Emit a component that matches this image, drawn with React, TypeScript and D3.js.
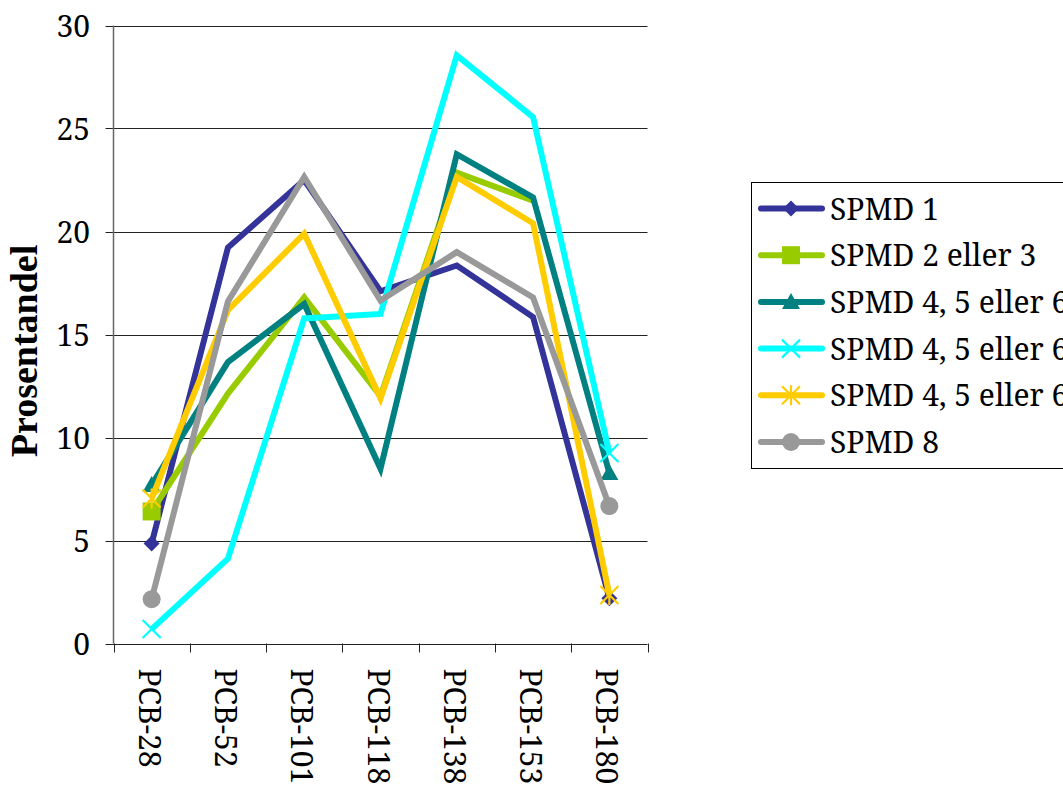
import React from "react";
import * as d3 from "d3";

const categories = ["PCB-28", "PCB-52", "PCB-101", "PCB-118", "PCB-138", "PCB-153", "PCB-180"];
const yTicks = [0, 5, 10, 15, 20, 25, 30];

const spmd1 = [4.86, 19.22, 22.5, 17.1, 18.35, 15.85, 2.2];
const spmd23 = [6.41, 12.13, 16.8, 12.0, 22.86, 21.49, null];
const spmd456a = [7.7, 13.66, 16.48, 8.49, 23.75, 21.65, 8.28];
const spmd456b = [0.7, 4.12, 15.78, 16.0, 28.55, 25.55, 9.25];
const spmd456c = [7.04, 16.18, 19.9, 11.9, 22.65, 20.4, 2.35];
const spmd8 = [2.15, 16.6, 22.65, 16.65, 19.0, 16.8, 6.67];

const seriesNames = ["SPMD 1", "SPMD 2 eller 3", "SPMD 4, 5 eller 6", "SPMD 4, 5 eller 6", "SPMD 4, 5 eller 6", "SPMD 8"];
const seriesColors = ["#333399", "#99CC00", "#008080", "#00FFFF", "#FFCC00", "#999999"];
const seriesMarkers = ["diamond", "square", "triangle", "x", "asterisk", "circle"];
const seriesValues = [spmd1, spmd23, spmd456a, spmd456b, spmd456c, spmd8];

const FONT = "'Noto Serif', 'DejaVu Serif', serif";
const BOLD_FONT = "'Liberation Serif', 'Times New Roman', serif";
const FS = 30;

function Marker({ type, color, x, y }: { type: string; color: string; x: number; y: number }) {
  switch (type) {
    case "diamond":
      return <path d={`M${x},${y - 8}L${x + 8},${y}L${x},${y + 8}L${x - 8},${y}Z`} fill={color} />;
    case "square":
      return <rect x={x - 9} y={y - 9} width={18} height={18} fill={color} />;
    case "triangle":
      return <path d={`M${x},${y - 9}L${x + 9},${y + 7}L${x - 9},${y + 7}Z`} fill={color} />;
    case "circle":
      return <circle cx={x} cy={y} r={9} fill={color} />;
    case "x":
      return (
        <path d={`M${x - 9},${y - 9}L${x + 9},${y + 9}M${x - 9},${y + 9}L${x + 9},${y - 9}`} stroke={color} strokeWidth={2.2} fill="none" />
      );
    case "asterisk":
      return (
        <path
          d={`M${x - 9},${y - 9}L${x + 9},${y + 9}M${x - 9},${y + 9}L${x + 9},${y - 9}M${x},${y - 10}L${x},${y + 10}`}
          stroke={color}
          strokeWidth={2.2}
          fill="none"
        />
      );
    default:
      return null;
  }
}

export default function App() {
  const W = 1063;
  const H = 785;
  const left = 113.5;
  const right = 647.5;
  const top = 25.5;
  const bottom = 643.5;

  const x = d3.scaleBand<string>().domain(categories).range([left, right]).padding(0);
  const y = d3.scaleLinear().domain([0, 30]).range([bottom, top]);
  const cx = (c: string) => (x(c) as number) + x.bandwidth() / 2;

  const line = d3
    .line<number | null>()
    .defined((d) => d !== null)
    .x((_, i) => cx(categories[i]))
    .y((d) => y(d as number));

  const legendX = 751.5;
  const legendY = 182.5;
  const rowH = 46.7;
  const txt = { fontFamily: FONT };

  return (
    <svg width={W} height={H} style={{ position: "absolute", left: 0, top: 0, background: "#fff", fontFamily: FONT }}>
      <rect x={0} y={0} width={W} height={H} fill="#fff" />
      {yTicks.map((t) => (
        <line key={"g" + t} x1={left - 8} x2={right} y1={Math.round(y(t)) + 0.5} y2={Math.round(y(t)) + 0.5} stroke="#222" strokeWidth={1} />
      ))}
      <line x1={left} x2={left} y1={top} y2={bottom} stroke="#666" strokeWidth={1.5} />
      {yTicks.map((t) => (
        <text key={"yl" + t} x={90} y={y(t) + 11} textAnchor="end" fontSize={FS} fill="#000" style={txt}>
          {t}
        </text>
      ))}
      <text transform={`translate(37,351) rotate(-90)`} textAnchor="middle" fontSize={38} fontWeight="bold" fill="#000" style={{ fontFamily: BOLD_FONT }}>
        Prosentandel
      </text>
      {categories.map((c, i) => (
        <line key={"xt" + i} x1={Math.round(x(c) as number) + 0.5} x2={Math.round(x(c) as number) + 0.5} y1={bottom} y2={bottom + 9} stroke="#222" strokeWidth={1} />
      ))}
      <line x1={Math.round(right) + 0.5} x2={Math.round(right) + 0.5} y1={bottom} y2={bottom + 9} stroke="#222" strokeWidth={1} />
      {categories.map((c) => (
        <text key={"xl" + c} transform={`translate(${cx(c)},${bottom + 25}) rotate(90)`} x={0} y={13} textAnchor="start" fontSize={FS} fill="#000" style={txt}>
          {c}
        </text>
      ))}
      {seriesValues.map((vals, si) => (
        <g key={"s" + si}>
          <path d={line(vals) || ""} fill="none" stroke={seriesColors[si]} strokeWidth={6} strokeLinejoin="miter" strokeLinecap="butt" />
          {vals.map((v, i) => {
            if (v === null) return null;
            if (i !== 0 && i !== categories.length - 1) return null;
            return <Marker key={i} type={seriesMarkers[si]} color={seriesColors[si]} x={cx(categories[i])} y={y(v)} />;
          })}
        </g>
      ))}
      <rect x={legendX} y={legendY} width={W} height={286} fill="#fff" stroke="#000" strokeWidth={1} />
      {seriesNames.map((n, i) => {
        const ry = legendY + 26 + i * rowH;
        return (
          <g key={"lg" + i}>
            <line x1={761} x2={822} y1={ry} y2={ry} stroke={seriesColors[i]} strokeWidth={6} strokeLinecap="round" />
            <Marker type={seriesMarkers[i]} color={seriesColors[i]} x={791} y={ry} />
            <text x={830} y={ry + 11} fontSize={FS} fill="#000" style={txt}>
              {n}
            </text>
          </g>
        );
      })}
    </svg>
  );
}
